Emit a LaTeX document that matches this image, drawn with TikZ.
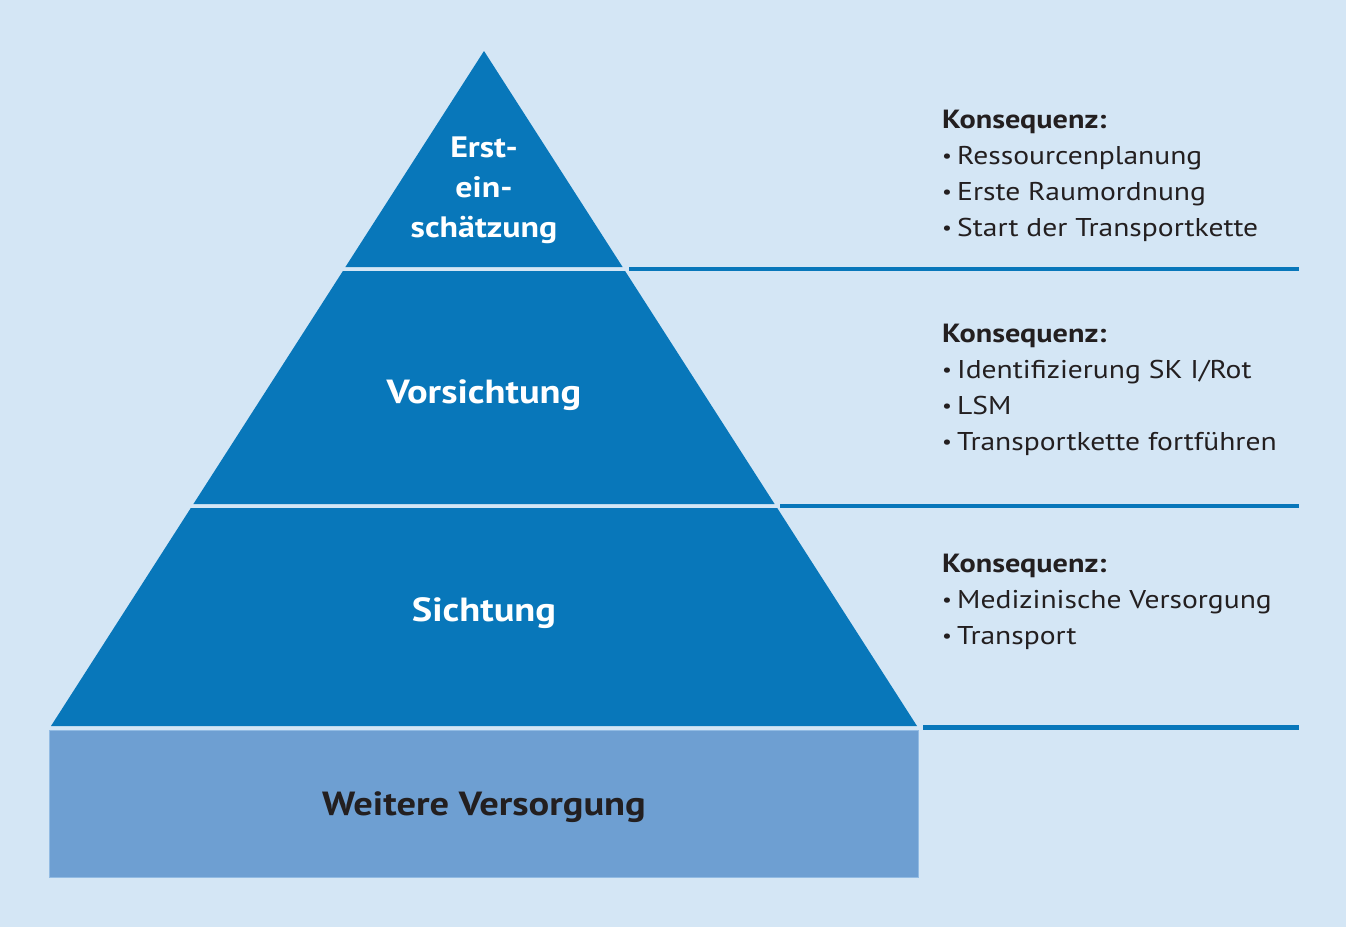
\documentclass[tikz,border=0pt]{standalone}
\usepackage{fontspec}
\setmainfont{PT Sans}[FakeStretch=1.15]
\definecolor{bgc}{HTML}{D4E6F5}
\definecolor{pyr}{HTML}{0877BA}
\definecolor{basec}{HTML}{6E9FD2}
\definecolor{basebd}{HTML}{92BBE3}
\definecolor{txt}{HTML}{231F20}
\newcommand{\bul}{\makebox[15pt][l]{\raisebox{2pt}{\fontsize{19}{19}\selectfont •}}}
\tikzset{
  x=1pt, y=-1pt,
  level/.style={fill=pyr, draw=none},
  sepline/.style={draw=pyr, line width=4.5pt},
  lbl/.style={anchor=base, text=white, font=\bfseries\fontsize{33.5}{36}\selectfont, inner sep=0pt},
  toplbl/.style={anchor=base, text=white, font=\bfseries\fontsize{29.5}{36}\selectfont, inner sep=0pt},
  head/.style={anchor=base west, text=txt, font=\bfseries\fontsize{26.3}{36}\selectfont, inner sep=0pt},
  item/.style={anchor=base west, text=txt, font=\fontsize{25.7}{36}\selectfont, inner sep=0pt},
}
\begin{document}
\begin{tikzpicture}
\fill[bgc] (0,0) rectangle (1346,927);
\useasboundingbox (0,0) rectangle (1346,927);
% pyramid levels
\path[level] (484,51) -- (622.6,267) -- (345.4,267) -- cycle;
\path[level] (342.9,271) -- (625.1,271) -- (774.6,504) -- (193.4,504) -- cycle;
\path[level] (190.8,508) -- (777.2,508) -- (917,726) -- (51,726) -- cycle;
\path[fill=basec, draw=basebd, line width=1pt] (49,730) rectangle (918,877);
% separator lines
\coordinate (l1a) at (629,269);  \coordinate (l1b) at (1299,269);
\coordinate (l2a) at (780,506);  \coordinate (l2b) at (1299,506);
\coordinate (l3a) at (923,727.5); \coordinate (l3b) at (1299,727.5);
\draw[sepline] (l1a) -- (l1b);
\draw[sepline] (l2a) -- (l2b);
\draw[sepline] (l3a) -- (l3b);
% pyramid labels
\node[toplbl] (t1) at (484,157) {Erst-};
\node[toplbl] (t2) at (484,197) {ein-};
\node[toplbl] (t3) at (484,237) {schätzung};
\node[lbl] (vor) at (484,403) {Vorsichtung};
\node[lbl] (sic) at (484,621) {Sichtung};
\node[lbl, text=txt] (wei) at (484,815) {Weitere Versorgung};
% right texts
\node[head] (h1) at (942,128) {Konsequenz:};
\node[item] (a1) at (942,164) {\bul Ressourcenplanung};
\node[item] (a2) at (942,200) {\bul Erste Raumordnung};
\node[item] (a3) at (942,236) {\bul Start der Transportkette};
\node[head] (h2) at (942,342) {Konsequenz:};
\node[item] (b1) at (942,378) {\bul Identifizierung SK I/Rot};
\node[item] (b2) at (942,414) {\bul LSM};
\node[item] (b3) at (942,450) {\bul Transportkette fortführen};
\node[head] (h3) at (942,572) {Konsequenz:};
\node[item] (c1) at (942,608) {\bul Medizinische Versorgung};
\node[item] (c2) at (942,644) {\bul Transport};
\end{tikzpicture}
\end{document}
